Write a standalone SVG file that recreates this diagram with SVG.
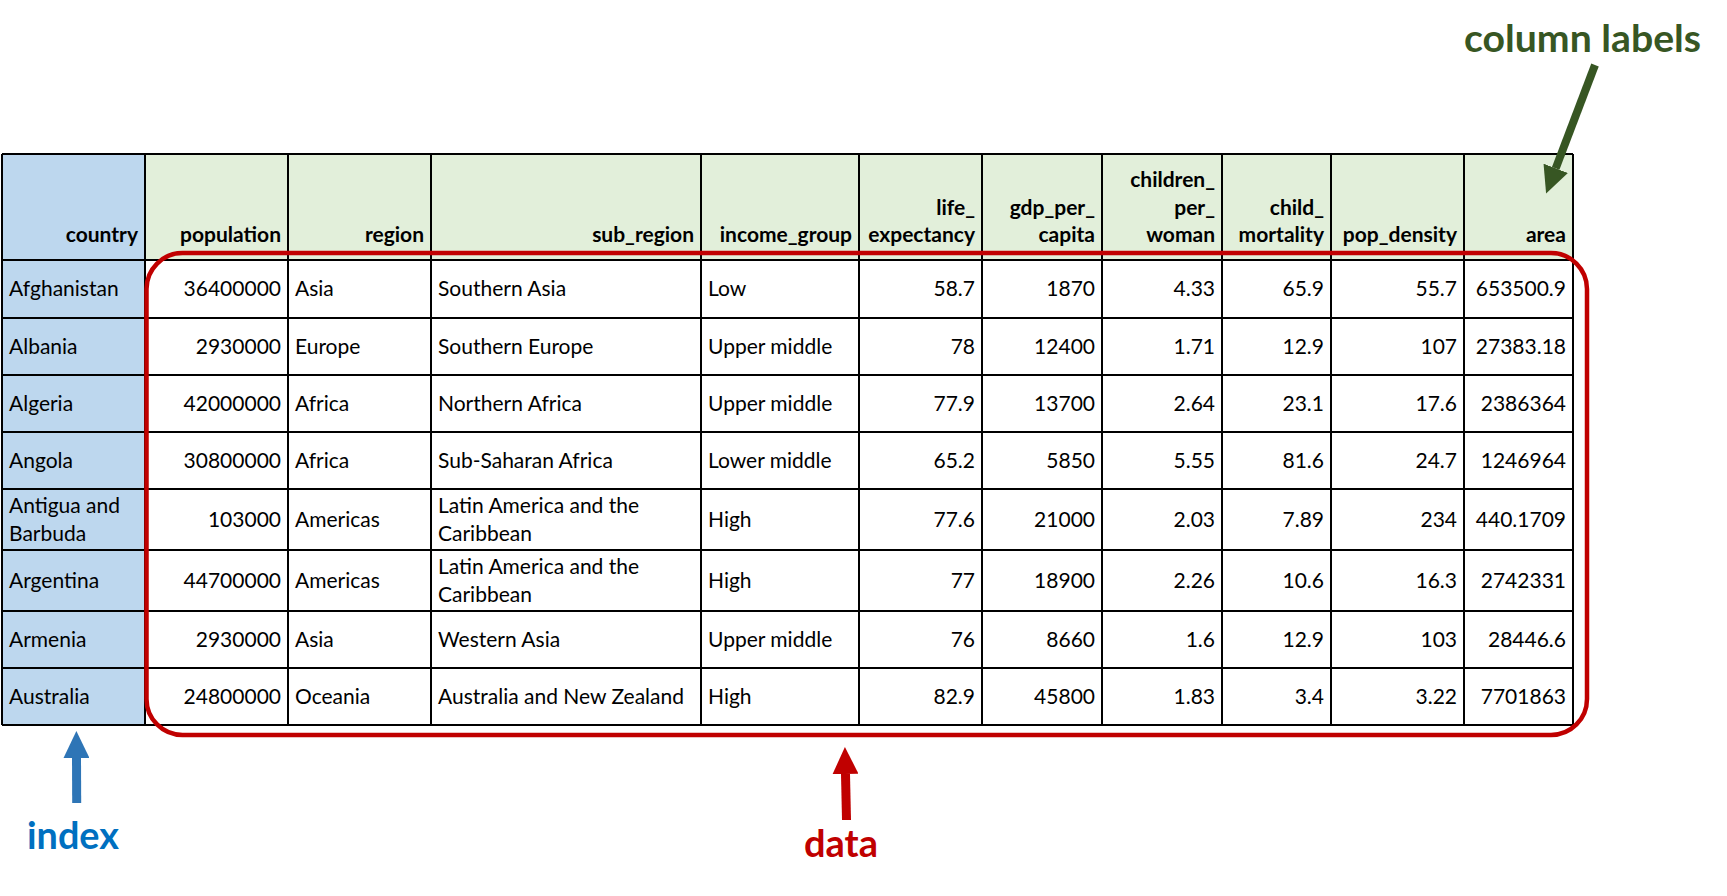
<svg xmlns="http://www.w3.org/2000/svg" width="1727" height="896" viewBox="0 0 1727 896">
<style>
.t{font-family:Lato,"Open Sans","Liberation Sans",sans-serif;font-size:21px;fill:#000}
.h{font-family:Lato,"Open Sans","Liberation Sans",sans-serif;font-size:21px;font-weight:bold;fill:#000;text-anchor:end}
.r{text-anchor:end}
.grid line{stroke:#000;stroke-width:2}
.big{font-family:Lato,"Open Sans","Liberation Sans",sans-serif;font-size:38px;font-weight:bold}
</style>
<defs>
<marker id="hg" viewBox="0 0 27 26" refX="0" refY="13" markerWidth="27" markerHeight="26" markerUnits="userSpaceOnUse" orient="auto"><path d="M0,0 L27,13 L0,26 z" fill="#375623"/></marker>
<marker id="hb" viewBox="0 0 27 26" refX="0" refY="13" markerWidth="27" markerHeight="26" markerUnits="userSpaceOnUse" orient="auto"><path d="M0,0 L27,13 L0,26 z" fill="#2E75B6"/></marker>
<marker id="hr" viewBox="0 0 27 26" refX="0" refY="13" markerWidth="27" markerHeight="26" markerUnits="userSpaceOnUse" orient="auto"><path d="M0,0 L27,13 L0,26 z" fill="#C00000"/></marker>
</defs>
<rect width="1727" height="896" fill="#fff"/>
<g id="table">
<rect x="2" y="154" width="143" height="571" fill="#BDD7EE"/>
<rect x="145" y="154" width="1428" height="106" fill="#E2EFDA"/>
<g class="grid">
<line x1="2" y1="154" x2="1573" y2="154"/>
<line x1="2" y1="260" x2="1573" y2="260"/>
<line x1="2" y1="318" x2="1573" y2="318"/>
<line x1="2" y1="375" x2="1573" y2="375"/>
<line x1="2" y1="432" x2="1573" y2="432"/>
<line x1="2" y1="489" x2="1573" y2="489"/>
<line x1="2" y1="550" x2="1573" y2="550"/>
<line x1="2" y1="611" x2="1573" y2="611"/>
<line x1="2" y1="668" x2="1573" y2="668"/>
<line x1="2" y1="725" x2="1573" y2="725"/>
<line x1="2" y1="154" x2="2" y2="725"/>
<line x1="145" y1="154" x2="145" y2="725"/>
<line x1="288" y1="154" x2="288" y2="725"/>
<line x1="431" y1="154" x2="431" y2="725"/>
<line x1="701" y1="154" x2="701" y2="725"/>
<line x1="859" y1="154" x2="859" y2="725"/>
<line x1="982" y1="154" x2="982" y2="725"/>
<line x1="1102" y1="154" x2="1102" y2="725"/>
<line x1="1222" y1="154" x2="1222" y2="725"/>
<line x1="1331" y1="154" x2="1331" y2="725"/>
<line x1="1464" y1="154" x2="1464" y2="725"/>
<line x1="1573" y1="154" x2="1573" y2="725"/>
</g>
<g id="header">
<text class="h" x="138" y="242">country</text>
<text class="h" x="281" y="242">population</text>
<text class="h" x="424" y="242">region</text>
<text class="h" x="694" y="242">sub_region</text>
<text class="h" x="852" y="242">income_group</text>
<text class="h" x="975" y="214.5">life_</text>
<text class="h" x="975" y="242">expectancy</text>
<text class="h" x="1095" y="214.5">gdp_per_</text>
<text class="h" x="1095" y="242">capita</text>
<text class="h" x="1215" y="187">children_</text>
<text class="h" x="1215" y="214.5">per_</text>
<text class="h" x="1215" y="242">woman</text>
<text class="h" x="1324" y="214.5">child_</text>
<text class="h" x="1324" y="242">mortality</text>
<text class="h" x="1457" y="242">pop_density</text>
<text class="h" x="1566" y="242">area</text>
</g>
<g id="rows" class="t">
<text x="9" y="296">Afghanistan</text>
<text class="r" x="281" y="296">36400000</text>
<text x="295" y="296">Asia</text>
<text x="438" y="296">Southern Asia</text>
<text x="708" y="296">Low</text>
<text class="r" x="975" y="296">58.7</text>
<text class="r" x="1095" y="296">1870</text>
<text class="r" x="1215" y="296">4.33</text>
<text class="r" x="1324" y="296">65.9</text>
<text class="r" x="1457" y="296">55.7</text>
<text class="r" x="1566" y="296">653500.9</text>

<text x="9" y="353.5">Albania</text>
<text class="r" x="281" y="353.5">2930000</text>
<text x="295" y="353.5">Europe</text>
<text x="438" y="353.5">Southern Europe</text>
<text x="708" y="353.5">Upper middle</text>
<text class="r" x="975" y="353.5">78</text>
<text class="r" x="1095" y="353.5">12400</text>
<text class="r" x="1215" y="353.5">1.71</text>
<text class="r" x="1324" y="353.5">12.9</text>
<text class="r" x="1457" y="353.5">107</text>
<text class="r" x="1566" y="353.5">27383.18</text>

<text x="9" y="410.5">Algeria</text>
<text class="r" x="281" y="410.5">42000000</text>
<text x="295" y="410.5">Africa</text>
<text x="438" y="410.5">Northern Africa</text>
<text x="708" y="410.5">Upper middle</text>
<text class="r" x="975" y="410.5">77.9</text>
<text class="r" x="1095" y="410.5">13700</text>
<text class="r" x="1215" y="410.5">2.64</text>
<text class="r" x="1324" y="410.5">23.1</text>
<text class="r" x="1457" y="410.5">17.6</text>
<text class="r" x="1566" y="410.5">2386364</text>

<text x="9" y="467.5">Angola</text>
<text class="r" x="281" y="467.5">30800000</text>
<text x="295" y="467.5">Africa</text>
<text x="438" y="467.5">Sub-Saharan Africa</text>
<text x="708" y="467.5">Lower middle</text>
<text class="r" x="975" y="467.5">65.2</text>
<text class="r" x="1095" y="467.5">5850</text>
<text class="r" x="1215" y="467.5">5.55</text>
<text class="r" x="1324" y="467.5">81.6</text>
<text class="r" x="1457" y="467.5">24.7</text>
<text class="r" x="1566" y="467.5">1246964</text>

<text x="9" y="512.5">Antigua and</text>
<text x="9" y="540.5">Barbuda</text>
<text class="r" x="281" y="526.5">103000</text>
<text x="295" y="526.5">Americas</text>
<text x="438" y="512.5">Latin America and the</text>
<text x="438" y="540.5">Caribbean</text>
<text x="708" y="526.5">High</text>
<text class="r" x="975" y="526.5">77.6</text>
<text class="r" x="1095" y="526.5">21000</text>
<text class="r" x="1215" y="526.5">2.03</text>
<text class="r" x="1324" y="526.5">7.89</text>
<text class="r" x="1457" y="526.5">234</text>
<text class="r" x="1566" y="526.5">440.1709</text>

<text x="9" y="587.5">Argentina</text>
<text class="r" x="281" y="587.5">44700000</text>
<text x="295" y="587.5">Americas</text>
<text x="438" y="573.5">Latin America and the</text>
<text x="438" y="601.5">Caribbean</text>
<text x="708" y="587.5">High</text>
<text class="r" x="975" y="587.5">77</text>
<text class="r" x="1095" y="587.5">18900</text>
<text class="r" x="1215" y="587.5">2.26</text>
<text class="r" x="1324" y="587.5">10.6</text>
<text class="r" x="1457" y="587.5">16.3</text>
<text class="r" x="1566" y="587.5">2742331</text>

<text x="9" y="646.5">Armenia</text>
<text class="r" x="281" y="646.5">2930000</text>
<text x="295" y="646.5">Asia</text>
<text x="438" y="646.5">Western Asia</text>
<text x="708" y="646.5">Upper middle</text>
<text class="r" x="975" y="646.5">76</text>
<text class="r" x="1095" y="646.5">8660</text>
<text class="r" x="1215" y="646.5">1.6</text>
<text class="r" x="1324" y="646.5">12.9</text>
<text class="r" x="1457" y="646.5">103</text>
<text class="r" x="1566" y="646.5">28446.6</text>

<text x="9" y="703.5">Australia</text>
<text class="r" x="281" y="703.5">24800000</text>
<text x="295" y="703.5">Oceania</text>
<text x="438" y="703.5">Australia and New Zealand</text>
<text x="708" y="703.5">High</text>
<text class="r" x="975" y="703.5">82.9</text>
<text class="r" x="1095" y="703.5">45800</text>
<text class="r" x="1215" y="703.5">1.83</text>
<text class="r" x="1324" y="703.5">3.4</text>
<text class="r" x="1457" y="703.5">3.22</text>
<text class="r" x="1566" y="703.5">7701863</text>
</g>
</g>
<g id="data-box">
<rect x="146.5" y="253" width="1440.5" height="482" rx="36" ry="36" fill="none" stroke="#C00000" stroke-width="4.5"/>
</g>
<g id="column-labels"><text class="big" x="1464" y="52" fill="#375623" textLength="237" lengthAdjust="spacingAndGlyphs">column labels</text></g>
<g id="index-label"><text class="big" x="27" y="849" fill="#0070C0" textLength="92" lengthAdjust="spacingAndGlyphs">index</text></g>
<g id="data-label"><text class="big" x="804" y="857" fill="#C00000" textLength="74" lengthAdjust="spacingAndGlyphs">data</text></g>
<g id="connectors">
<line x1="1595" y1="65" x2="1555.7" y2="168.3" stroke="#375623" stroke-width="8" marker-end="url(#hg)"/>
<line x1="76.7" y1="803" x2="76.5" y2="758" stroke="#2E75B6" stroke-width="9" marker-end="url(#hb)"/>
<line x1="846.5" y1="820" x2="845.5" y2="774" stroke="#C00000" stroke-width="9" marker-end="url(#hr)"/>
</g>
</svg>
